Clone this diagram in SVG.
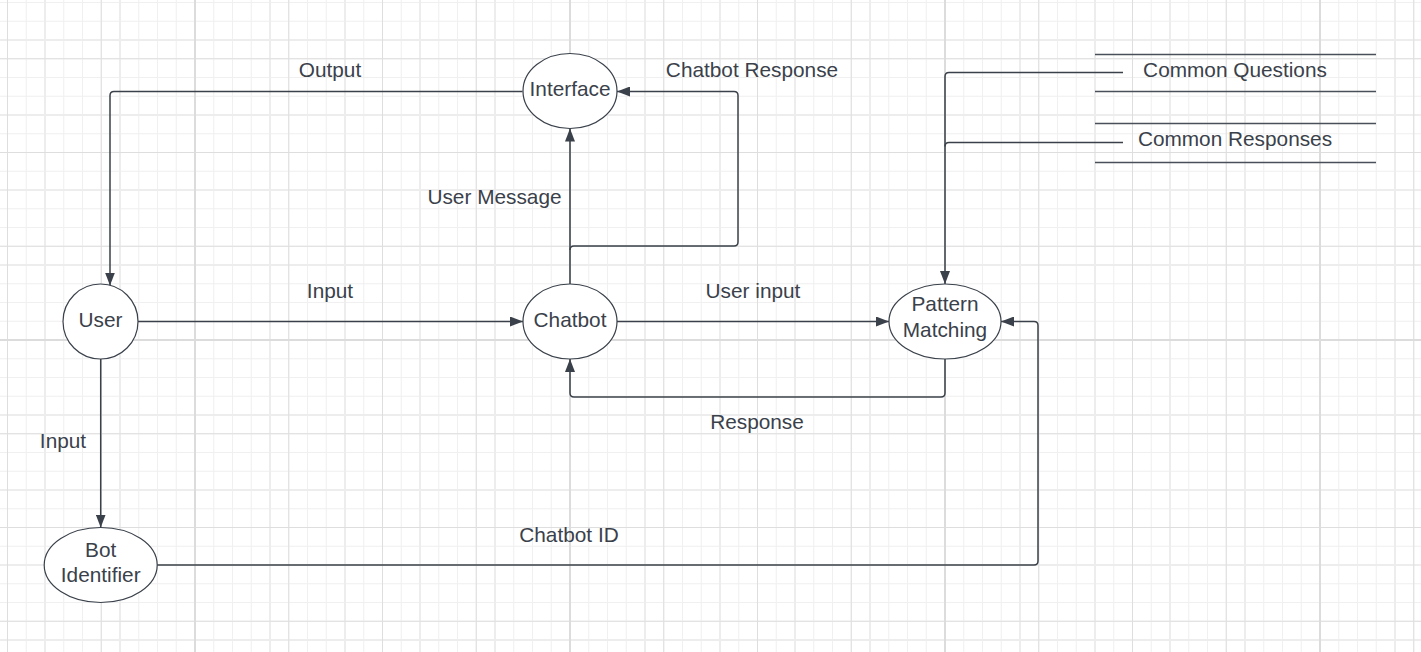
<svg xmlns="http://www.w3.org/2000/svg" width="1421" height="652" viewBox="0 0 1421 652">
<defs>
<style>
.t{font-family:"Liberation Sans",Arial,sans-serif;font-size:20.8px;fill:#3a414a;text-anchor:middle}
.n{fill:#ffffff;stroke:#3a414a;stroke-width:1.2}
.c{fill:none;stroke:#3a414a;stroke-width:1.5}
.ds{stroke:#4a5059;stroke-width:1.3}
</style>
<marker id="ah" viewBox="0 0 13 10" refX="13" refY="5" markerWidth="13" markerHeight="10" orient="auto" markerUnits="userSpaceOnUse"><path d="M0 0L13 5L0 10z" fill="#3a414a"/></marker>
</defs>
<rect width="1421" height="652" fill="#ffffff"/>
<g id="grid" fill="none">
<line x1="7" y1="326" x2="1421" y2="326" stroke="#f0f0f0" stroke-width="652" stroke-dasharray="1 17.75"/>
<line x1="710.5" y1="2" x2="710.5" y2="652" stroke="#f0f0f0" stroke-width="1421" stroke-dasharray="1 17.75"/>
<line x1="44" y1="326" x2="1421" y2="326" stroke="#ededed" stroke-width="652" stroke-dasharray="2 73"/>
<line x1="710.5" y1="39" x2="710.5" y2="652" stroke="#ededed" stroke-width="1421" stroke-dasharray="2 73"/>
<line x1="7" y1="326" x2="1421" y2="326" stroke="#dedede" stroke-width="652" stroke-dasharray="1 92.75"/>
<line x1="710.5" y1="58.25" x2="710.5" y2="652" stroke="#dedede" stroke-width="1421" stroke-dasharray="1 92.75"/>
<line x1="194" y1="326" x2="1421" y2="326" stroke="#dcdcdc" stroke-width="652" stroke-dasharray="2 373"/>
<line x1="0" y1="340" x2="1421" y2="340" stroke="#dcdcdc" stroke-width="2"/>
</g>
<g id="connectors">
<path class="c" d="M522.5 91.5H114Q110 91.5 110 95.5V285.5" marker-end="url(#ah)"/>
<path class="c" d="M138 321.5H523" marker-end="url(#ah)"/>
<path class="c" d="M570 284V128.5" marker-end="url(#ah)"/>
<path class="c" d="M570 250Q570 246 574 246H734Q738 246 738 242V95.5Q738 91.5 734 91.5H617" marker-end="url(#ah)"/>
<path class="c" d="M617 321.5H889" marker-end="url(#ah)"/>
<path class="c" d="M945 359V393Q945 397 941 397H574Q570 397 570 393V359" marker-end="url(#ah)"/>
<path class="c" d="M100.7 359V527.5" marker-end="url(#ah)"/>
<path class="c" d="M157 565H1034Q1038 565 1038 561V325.5Q1038 321.5 1034 321.5H1001" marker-end="url(#ah)"/>
<path class="c" d="M1123 72.5H949Q945 72.5 945 76.5V284" marker-end="url(#ah)"/>
<path class="c" d="M1123 142.5H949Q945 142.5 945 146.5"/>
</g>
<g id="labels">
<text class="t" x="330" y="77">Output</text>
<text class="t" x="752" y="77">Chatbot Response</text>
<text class="t" x="494.5" y="204">User Message</text>
<text class="t" x="330" y="298">Input</text>
<text class="t" x="753" y="298">User input</text>
<text class="t" x="757" y="429">Response</text>
<text class="t" x="63" y="448">Input</text>
<text class="t" x="569" y="542">Chatbot ID</text>
</g>
<g id="node-interface">
<ellipse class="n" cx="570" cy="91" rx="47" ry="37.5"/>
<text class="t" x="570" y="96">Interface</text>
</g>
<g id="node-user">
<ellipse class="n" cx="100.5" cy="321.5" rx="37.5" ry="37.5"/>
<text class="t" x="100.5" y="327">User</text>
</g>
<g id="node-chatbot">
<ellipse class="n" cx="570" cy="321.5" rx="47" ry="37.5"/>
<text class="t" x="570" y="327">Chatbot</text>
</g>
<g id="node-pattern">
<ellipse class="n" cx="945" cy="321.5" rx="56" ry="37.5"/>
<text class="t" x="945" y="311">Pattern</text>
<text class="t" x="945" y="337">Matching</text>
</g>
<g id="node-bot-identifier">
<ellipse class="n" cx="100.7" cy="565" rx="56.5" ry="37.5"/>
<text class="t" x="100.7" y="557">Bot</text>
<text class="t" x="100.7" y="582">Identifier</text>
</g>
<g id="store-questions">
<line class="ds" x1="1095" y1="54.5" x2="1376" y2="54.5"/>
<line class="ds" x1="1095" y1="91.5" x2="1376" y2="91.5"/>
<text class="t" x="1235" y="77">Common Questions</text>
</g>
<g id="store-responses">
<line class="ds" x1="1095" y1="123.5" x2="1376" y2="123.5"/>
<line class="ds" x1="1095" y1="162.5" x2="1376" y2="162.5"/>
<text class="t" x="1235" y="146">Common Responses</text>
</g>
</svg>
